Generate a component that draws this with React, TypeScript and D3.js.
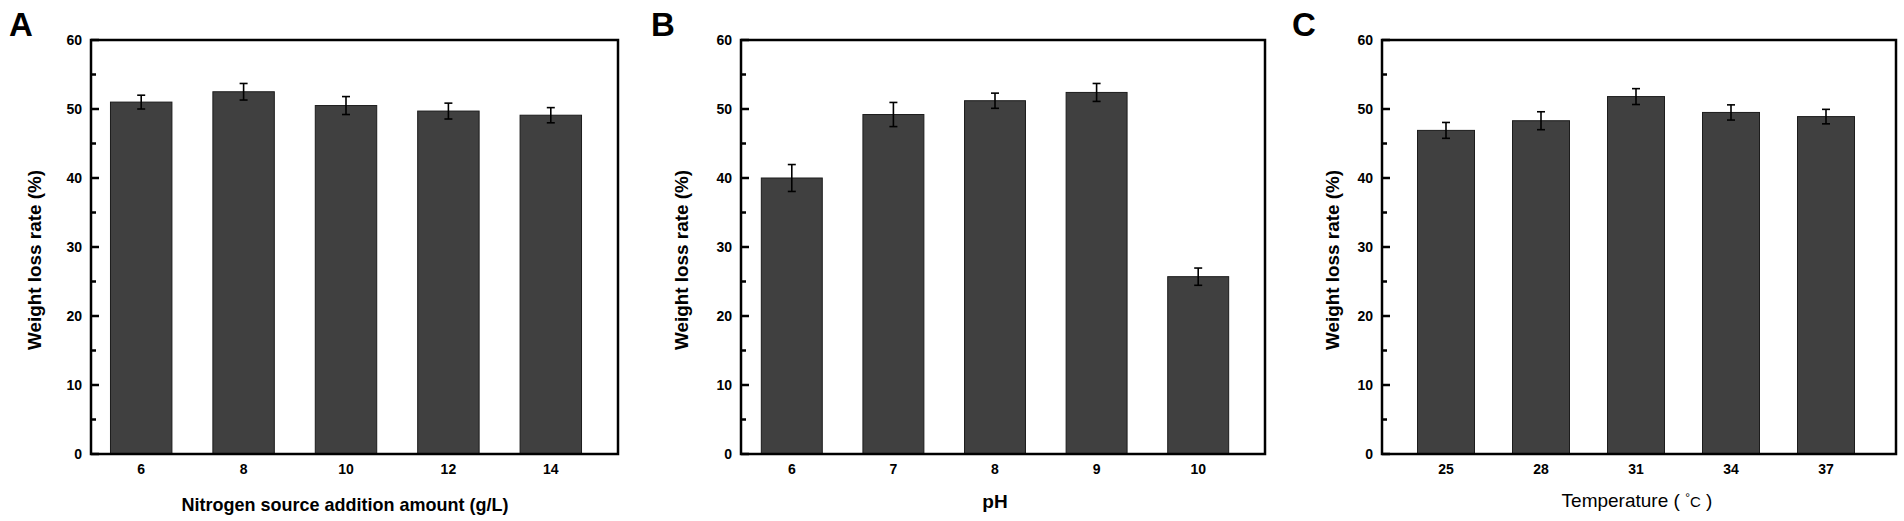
import React from 'react'
import * as d3 from 'd3'

// values (mean weight loss rate, % and error)
const nitrogenLevels = ['6', '8', '10', '12', '14']
const nitrogenMeans = [51.0, 52.5, 50.5, 49.7, 49.1]
const nitrogenErr = [1.0, 1.2, 1.3, 1.15, 1.1]

const phLevels = ['6', '7', '8', '9', '10']
const phMeans = [40.0, 49.2, 51.2, 52.4, 25.7]
const phErr = [1.95, 1.75, 1.1, 1.3, 1.25]

const tempLevels = ['25', '28', '31', '34', '37']
const tempMeans = [46.9, 48.3, 51.8, 49.5, 48.9]
const tempErr = [1.15, 1.3, 1.15, 1.1, 1.05]

const yTicks = [0, 10, 20, 30, 40, 50, 60]
const yMinorTicks = [5, 15, 25, 35, 45, 55]

const FONT = 'Liberation Sans, Arial, Helvetica, sans-serif'
const TOP = 40
const BOTTOM = 454

type PanelProps = {
  letter: string
  letterX: number
  left: number
  right: number
  bandL: number
  bandR: number
  ylabelX: number
  levels: string[]
  means: number[]
  errs: number[]
  xtitle: React.ReactNode
}

const Panel = ({ letter, letterX, left, right, bandL, bandR, ylabelX, levels, means, errs, xtitle }: PanelProps) => {
  const y = d3.scaleLinear().domain([0, 60]).range([BOTTOM, TOP])
  const x = d3.scaleBand<string>().domain(levels).range([bandL, bandR]).paddingInner(0.4).paddingOuter(0.2)
  const bw = x.bandwidth()
  return (
    <g>
      <text x={letterX} y={36} fontFamily={FONT} fontWeight="bold" fontSize={33}>{letter}</text>
      {levels.map((lv, i) => {
        const cx = (x(lv) as number) + bw / 2
        return (
          <g key={lv}>
            <rect x={x(lv)} y={y(means[i])} width={bw} height={BOTTOM - y(means[i])}
              fill="#404040" stroke="#1c1c1c" strokeWidth={1} />
            <line x1={cx} x2={cx} y1={y(means[i] + errs[i])} y2={y(means[i] - errs[i])} stroke="#000" strokeWidth={1.6} />
            <line x1={cx - 4} x2={cx + 4} y1={y(means[i] + errs[i])} y2={y(means[i] + errs[i])} stroke="#000" strokeWidth={1.6} />
            <line x1={cx - 4} x2={cx + 4} y1={y(means[i] - errs[i])} y2={y(means[i] - errs[i])} stroke="#000" strokeWidth={1.6} />
            <text x={cx} y={474} textAnchor="middle" fontFamily={FONT} fontWeight="bold" fontSize={14}>{lv}</text>
          </g>
        )
      })}
      <rect x={left} y={TOP} width={right - left} height={BOTTOM - TOP} fill="none" stroke="#000" strokeWidth={2.5} />
      {yTicks.map(t => (
        <g key={t}>
          <line x1={left} x2={left + 8} y1={y(t)} y2={y(t)} stroke="#000" strokeWidth={2.5} />
          <text x={left - 9} y={y(t)} dy="0.35em" textAnchor="end" fontFamily={FONT} fontWeight="bold" fontSize={14}>{t}</text>
        </g>
      ))}
      {yMinorTicks.map(t => (
        <line key={t} x1={left} x2={left + 5} y1={y(t)} y2={y(t)} stroke="#000" strokeWidth={2.5} />
      ))}
      <text transform={`translate(${ylabelX},260) rotate(-90)`} dy="0.35em" textAnchor="middle"
        fontFamily={FONT} fontWeight="bold" fontSize={19} textLength={180} lengthAdjust="spacingAndGlyphs">
        Weight loss rate (%)
      </text>
      {xtitle}
    </g>
  )
}

export default function App() {
  return (
    <svg width={1904} height={521} style={{ position: 'absolute', left: 0, top: 0, background: '#fff' }}>
      <Panel letter="A" letterX={9} left={91} right={618} bandL={90} bandR={602} ylabelX={34}
        levels={nitrogenLevels} means={nitrogenMeans} errs={nitrogenErr}
        xtitle={<text x={345} y={511} textAnchor="middle" fontFamily={FONT} fontWeight="bold" fontSize={19}
          textLength={327} lengthAdjust="spacingAndGlyphs">Nitrogen source addition amount (g/L)</text>} />
      <Panel letter="B" letterX={651} left={741} right={1265} bandL={741} bandR={1249} ylabelX={681}
        levels={phLevels} means={phMeans} errs={phErr}
        xtitle={<text x={995} y={508} textAnchor="middle" fontFamily={FONT} fontWeight="bold" fontSize={19}>pH</text>} />
      <Panel letter="C" letterX={1292} left={1382} right={1896} bandL={1398.5} bandR={1873.5} ylabelX={1332}
        levels={tempLevels} means={tempMeans} errs={tempErr}
        xtitle={<text x={1637} y={507} textAnchor="middle" fontFamily={FONT} fontSize={19}>
          Temperature ( <tspan fontSize={12} dy={-5}>°</tspan><tspan fontSize={15} dy={5}>C</tspan> )</text>} />
    </svg>
  )
}
